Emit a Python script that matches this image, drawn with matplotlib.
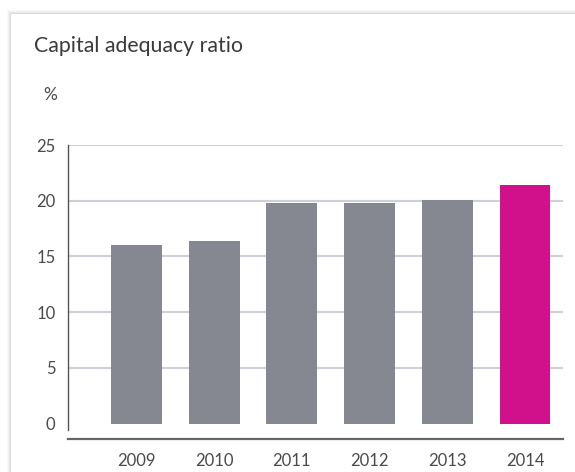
import matplotlib.pyplot as plt
from matplotlib.patches import Rectangle

years = ['2009', '2010', '2011', '2012', '2013', '2014']
ratio = [16.0, 16.4, 19.8, 19.8, 20.1, 21.4]
bar_colors = ['#858891'] * 5 + ['#d1118c']
yticks = [0, 5, 10, 15, 20, 25]

plt.rcParams['font.family'] = ['Lato', 'DejaVu Sans']

W, H = 575, 472
fig = plt.figure(figsize=(W / 100, H / 100), dpi=100)
fig.patch.set_facecolor('white')

# card with a soft shadow on the top and left edges
for i, a in enumerate([0.05, 0.04, 0.03, 0.02]):
    fig.patches.append(Rectangle(((11 - i - 1) / W, 0), 1, (H - 14 + i + 1) / H,
                                 transform=fig.transFigure, facecolor='black',
                                 alpha=a, edgecolor='none', zorder=-2))
fig.patches.append(Rectangle((11 / W, 0), 1, (H - 14) / H, transform=fig.transFigure,
                             facecolor='white', edgecolor='none', zorder=-1))

ax = fig.add_axes([68 / W, 1 - 439 / H, 495 / W, 294 / H])
ax.set_facecolor('none')
ax.set_zorder(2)

x = list(range(len(years)))
ax.bar(x, ratio, width=0.656, color=bar_colors, zorder=3)

for t in yticks[1:]:
    ax.axhline(t, color='#cfcfd7', linewidth=1.5, zorder=1)

ax.set_xlim(-0.882, 5.489)
ax.set_ylim(-1.39, 25)
ax.set_xticks(x)
ax.set_xticklabels(years)
ax.set_yticks(yticks)

for s in ['top', 'right']:
    ax.spines[s].set_visible(False)
ax.spines['left'].set_bounds(-0.58, 25)
ax.spines['left'].set_color('#555555')
ax.spines['left'].set_linewidth(1.0)
ax.spines['bottom'].set_color('#666666')
ax.spines['bottom'].set_linewidth(1.6)

ax.tick_params(axis='both', length=0, labelsize=12, labelcolor='#4a4a4a')
ax.tick_params(axis='y', pad=9)
ax.tick_params(axis='x', pad=10)

fig.text(34 / W, 1 - 46 / H, 'Capital adequacy ratio', fontsize=15.3,
         color='#3a3a3a', va='center', ha='left', zorder=3)
fig.text(50 / W, 1 - 95 / H, '%', fontsize=12.5, color='#4a4a4a',
         va='center', ha='center', zorder=3)

fig.savefig('out.png', dpi=100)
